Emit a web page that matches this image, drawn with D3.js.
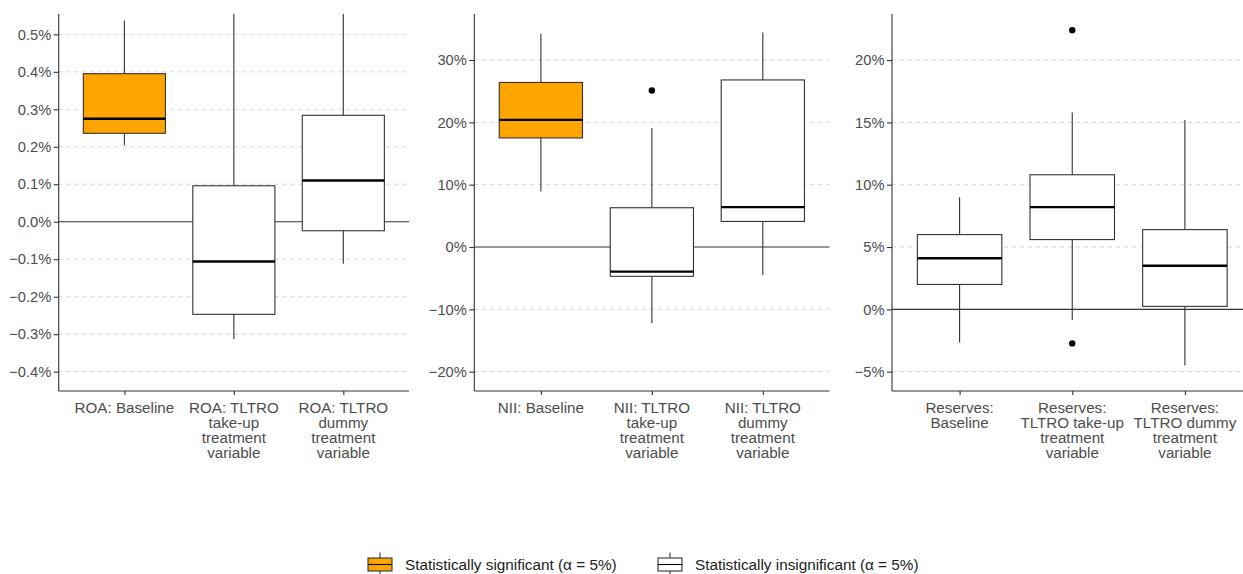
<!DOCTYPE html>
<html>
<head>
<meta charset="utf-8">
<script src="https://cdn.jsdelivr.net/npm/d3@7"></script>
<style>
  html, body { margin: 0; padding: 0; background: #fff; }
  svg { display: block; font-family: "Liberation Sans", Arial, sans-serif; }
</style>
</head>
<body>
<svg id="chart" width="1243" height="574"></svg>
<script>
// ---- Data (percent units) ----
// ROA panel
const roaCategories = ["ROA: Baseline", "ROA: TLTRO\ntake-up\ntreatment\nvariable", "ROA: TLTRO\ndummy\ntreatment\nvariable"];
const roaLow     = [0.204, -0.313, -0.112];
const roaQ1      = [0.236, -0.247, -0.024];
const roaMedian  = [0.275, -0.106, 0.110];
const roaQ3      = [0.395, 0.096, 0.284];
const roaHigh    = [0.537, 0.620, 0.600];
const roaOutliers = [[], [], []];
const roaSignificant = [true, false, false];
const roaTicks = [-0.4, -0.3, -0.2, -0.1, 0.0, 0.1, 0.2, 0.3, 0.4, 0.5];

// NII panel
const niiCategories = ["NII: Baseline", "NII: TLTRO\ntake-up\ntreatment\nvariable", "NII: TLTRO\ndummy\ntreatment\nvariable"];
const niiLow     = [8.9, -12.2, -4.5];
const niiQ1      = [17.5, -4.7, 4.1];
const niiMedian  = [20.4, -3.95, 6.4];
const niiQ3      = [26.4, 6.3, 26.8];
const niiHigh    = [34.2, 19.1, 34.4];
const niiOutliers = [[], [25.1], []];
const niiSignificant = [true, false, false];
const niiTicks = [-20, -10, 0, 10, 20, 30];

// Reserves panel
const resCategories = ["Reserves:\nBaseline", "Reserves:\nTLTRO take-up\ntreatment\nvariable", "Reserves:\nTLTRO dummy\ntreatment\nvariable"];
const resLow     = [-2.65, -0.85, -4.5];
const resQ1      = [2.0, 5.6, 0.24];
const resMedian  = [4.1, 8.2, 3.5];
const resQ3      = [6.0, 10.8, 6.4];
const resHigh    = [9.0, 15.8, 15.2];
const resOutliers = [[], [22.4, -2.73], []];
const resSignificant = [false, false, false];
const resTicks = [-5, 0, 5, 10, 15, 20];

const legendLabels = ["Statistically significant (\u03b1 = 5%)", "Statistically insignificant (\u03b1 = 5%)"];

// ---- Layout ----
const COL_SIG = "#FFA500";
const COL_INSIG = "#FFFFFF";
const plotTop = 14, plotBottom = 391;

const panels = [
  { cats: roaCategories, lo: roaLow, q1: roaQ1, med: roaMedian, q3: roaQ3, hi: roaHigh, out: roaOutliers, sig: roaSignificant,
    ticks: roaTicks, domain: [-0.4516, 0.5543], x0: 58.7, x1: 409, fmt: v => d3.format(".1f")(v) + "%" },
  { cats: niiCategories, lo: niiLow, q1: niiQ1, med: niiMedian, q3: niiQ3, hi: niiHigh, out: niiOutliers, sig: niiSignificant,
    ticks: niiTicks, domain: [-23.1, 37.38], x0: 474.3, x1: 829.4, fmt: v => d3.format("d")(v) + "%" },
  { cats: resCategories, lo: resLow, q1: resQ1, med: resMedian, q3: resQ3, hi: resHigh, out: resOutliers, sig: resSignificant,
    ticks: resTicks, domain: [-6.55, 23.7], x0: 892, x1: 1252.5, fmt: v => d3.format("d")(v) + "%" }
];

const svg = d3.select("#chart");
const textCol = "#4d4d4d";
const lineCol = "#333333";

panels.forEach((p, pi) => {
  const y = d3.scaleLinear().domain(p.domain).range([plotBottom, plotTop]);
  const x = d3.scalePoint().domain(p.cats).range([p.x0, p.x1]).padding(0.6);
  const step = x.step();
  const boxW = step * 0.75;

  const g = svg.append("g");
  const clipId = "clip" + pi;
  g.append("clipPath").attr("id", clipId)
    .append("rect").attr("x", p.x0).attr("y", plotTop).attr("width", p.x1 - p.x0).attr("height", plotBottom - plotTop);

  // dashed horizontal grid
  g.append("g").selectAll("line").data(p.ticks.filter(t => t !== 0)).join("line")
    .attr("x1", p.x0).attr("x2", p.x1)
    .attr("y1", d => y(d)).attr("y2", d => y(d))
    .attr("stroke", "#d4d4d4").attr("stroke-width", 1).attr("stroke-dasharray", "4,4");

  // zero reference line
  g.append("line").attr("x1", p.x0).attr("x2", p.x1).attr("y1", y(0)).attr("y2", y(0))
    .attr("stroke", lineCol).attr("stroke-width", 1.1);

  const body = g.append("g").attr("clip-path", `url(#${clipId})`);
  p.cats.forEach((c, i) => {
    const cx = x(c);
    // whiskers
    body.append("line").attr("x1", cx).attr("x2", cx).attr("y1", y(p.hi[i])).attr("y2", y(p.q3[i]))
      .attr("stroke", lineCol).attr("stroke-width", 1.1);
    body.append("line").attr("x1", cx).attr("x2", cx).attr("y1", y(p.q1[i])).attr("y2", y(p.lo[i]))
      .attr("stroke", lineCol).attr("stroke-width", 1.1);
    // box
    body.append("rect").attr("x", cx - boxW / 2).attr("width", boxW)
      .attr("y", y(p.q3[i])).attr("height", y(p.q1[i]) - y(p.q3[i]))
      .attr("fill", p.sig[i] ? COL_SIG : COL_INSIG)
      .attr("stroke", lineCol).attr("stroke-width", 1.1);
    // median
    body.append("line").attr("x1", cx - boxW / 2).attr("x2", cx + boxW / 2)
      .attr("y1", y(p.med[i])).attr("y2", y(p.med[i]))
      .attr("stroke", "#000").attr("stroke-width", 2.4);
    // outliers
    body.selectAll(null).data(p.out[i]).join("circle")
      .attr("cx", cx).attr("cy", d => y(d)).attr("r", 3.2).attr("fill", "#000");
  });

  // y axis
  const yAxis = d3.axisLeft(y).tickValues(p.ticks).tickFormat(p.fmt).tickSize(5).tickPadding(2.5);
  const ya = g.append("g").attr("transform", `translate(${p.x0},0)`).call(yAxis);
  ya.select(".domain").attr("d", `M0,${plotTop}V${plotBottom}`).attr("stroke", lineCol).attr("stroke-width", 1.1);
  ya.selectAll(".tick line").attr("stroke", lineCol).attr("stroke-width", 1.1);
  ya.selectAll(".tick text").attr("fill", textCol).style("font-size", "14.7px")
    .style("font-family", "'Liberation Sans', Arial, sans-serif");

  // x axis
  const xAxis = d3.axisBottom(x).tickSize(4).tickFormat("");
  const xa = g.append("g").attr("transform", `translate(0,${plotBottom})`).call(xAxis);
  xa.select(".domain").attr("d", `M${p.x0},0H${p.x1}`).attr("stroke", lineCol).attr("stroke-width", 1.1);
  xa.selectAll(".tick line").attr("stroke", lineCol).attr("stroke-width", 1.1);

  // multi-line category labels
  p.cats.forEach(c => {
    const t = g.append("text").attr("x", x(c)).attr("y", 412.5)
      .attr("text-anchor", "middle").attr("fill", textCol)
      .style("font-size", "15.2px");
    c.split("\n").forEach((line, li) => {
      t.append("tspan").attr("x", x(c)).attr("dy", li === 0 ? 0 : 15).text(line);
    });
  });
});

// ---- Legend ----
const legend = svg.append("g");
const legendItems = [
  { label: legendLabels[0], fill: COL_SIG, kx: 368, tx: 405 },
  { label: legendLabels[1], fill: COL_INSIG, kx: 658, tx: 695 }
];
legendItems.forEach(it => {
  const k = legend.append("g").attr("transform", `translate(${it.kx},0)`);
  k.append("line").attr("x1", 12).attr("x2", 12).attr("y1", 552.5).attr("y2", 574)
    .attr("stroke", lineCol).attr("stroke-width", 1.1);
  k.append("rect").attr("x", 0).attr("y", 558).attr("width", 24).attr("height", 13)
    .attr("fill", it.fill).attr("stroke", lineCol).attr("stroke-width", 1.1);
  k.append("line").attr("x1", 0).attr("x2", 24).attr("y1", 564.5).attr("y2", 564.5)
    .attr("stroke", "#000").attr("stroke-width", 1.1);
  legend.append("text").attr("x", it.tx).attr("y", 570).attr("fill", "#222")
    .style("font-size", "15.3px").text(it.label);
});
</script>
</body>
</html>
